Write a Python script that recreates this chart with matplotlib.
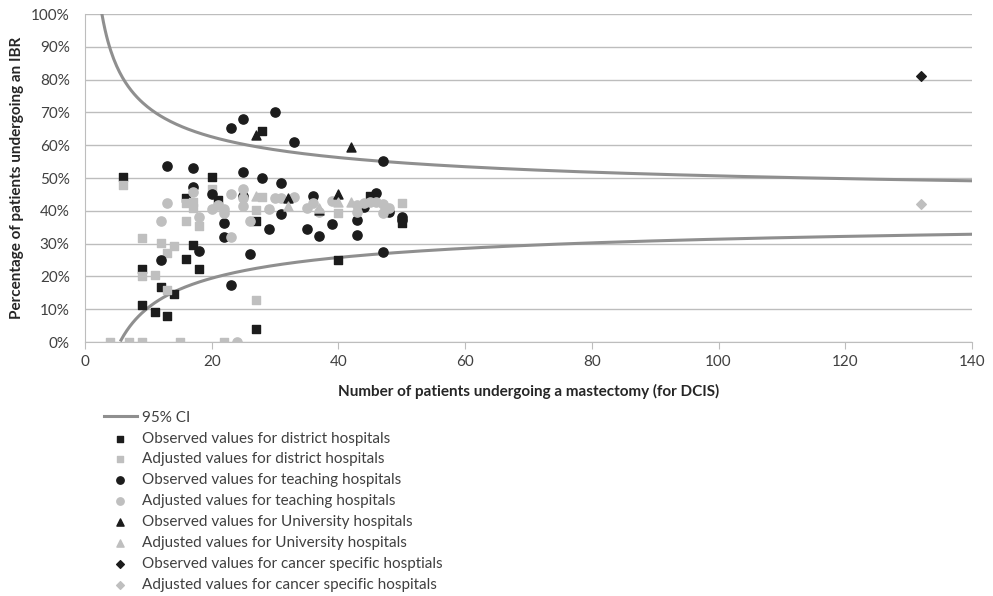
import matplotlib.pyplot as plt
import numpy as np

plt.rcParams['font.family'] = ['Lato', 'DejaVu Sans']

# observed / adjusted IBR rates (x = number of mastectomies, y = % IBR)
district_obs_x = [6, 9, 9, 11, 12, 13, 14, 16, 16, 17, 18, 20, 21, 27, 27, 28, 40, 45, 50]
district_obs_y = [50.2, 22.3, 11.3, 9.2, 16.7, 7.9, 14.5, 25.2, 44, 29.6, 22.4, 50.2, 43.3, 37, 3.9, 64.4, 25, 44.5, 36.2]
district_adj_x = [6, 9, 9, 11, 12, 13, 13, 14, 16, 17, 17, 16, 18, 20, 28, 27, 27, 40, 50, 4, 7, 9, 15, 22]
district_adj_y = [48, 31.6, 20, 20.4, 30.3, 27, 16, 29.3, 42.3, 42.8, 40.8, 37, 35.4, 46.5, 44.3, 40.3, 12.8, 39.2, 42.3, 0, 0, 0, 0, 0]

teach_obs_x = [13, 17, 17, 12, 18, 20, 22, 22, 23, 23, 25, 25, 25, 26, 28, 29, 30, 31, 31, 33, 35, 36, 37, 39, 43, 43, 44, 46, 47, 47, 48, 50, 50]
teach_obs_y = [53.8, 53, 47.2, 25, 27.7, 45, 36.4, 32.1, 65.1, 17.4, 68, 51.9, 44.4, 26.8, 50.1, 34.6, 70, 48.4, 38.9, 61, 34.4, 44.5, 32.3, 36, 37.2, 32.6, 41.3, 45.5, 55.3, 27.5, 39.5, 38.2, 37.2]
teach_adj_x = [13, 12, 17, 18, 20, 21, 22, 22, 23, 23, 25, 25, 25, 26, 29, 30, 31, 33, 35, 36, 37, 39, 43, 44, 45, 46, 47, 48, 47, 43, 24]
teach_adj_y = [42.5, 37, 45.8, 38, 40.4, 41.8, 40.4, 39.2, 32, 45, 46.5, 43.8, 41.5, 37, 40.4, 43.8, 43.8, 44.3, 41, 42.3, 39.7, 43.1, 41.8, 42.3, 42.6, 42.6, 42, 40.8, 39.2, 39.7, 0]

univ_obs_x = [27, 32, 37, 40, 42]
univ_obs_y = [63.1, 43.8, 40.2, 45.1, 59.6]
univ_adj_x = [27, 32, 37, 40, 42]
univ_adj_y = [44.5, 41.5, 41, 42.8, 42.6]

cancer_obs_x = [132]
cancer_obs_y = [81]
cancer_adj_x = [132]
cancer_adj_y = [42]

# funnel limits around the overall rate
overall_rate = 0.41
z95 = 1.96

black = '#1c1c1c'
grey = '#bfbfbf'

fig = plt.figure(figsize=(9.93, 5.96), dpi=100)
ax = fig.add_axes([85/993, 1-342/596, (972-85)/993, (342-14)/596])

n = np.linspace(2, 140, 600)
half = z95*np.sqrt(overall_rate*(1-overall_rate)/n)
ax.plot(n, (overall_rate+half)*100, color='#8f8f8f', lw=2.2, label='95% CI', zorder=2)
lower = (overall_rate-half)*100
lower[lower < 0] = np.nan
ax.plot(n, lower, color='#8f8f8f', lw=2.2, zorder=2)

ms = 38
ax.scatter(district_obs_x, district_obs_y, marker='s', s=ms, color=black, label='Observed values for district hospitals', zorder=3)
ax.scatter(district_adj_x, district_adj_y, marker='s', s=ms, color=grey, label='Adjusted values for district hospitals', zorder=3)
ax.scatter(teach_obs_x, teach_obs_y, marker='o', s=ms+6, color=black, label='Observed values for teaching hospitals', zorder=3)
ax.scatter(teach_adj_x, teach_adj_y, marker='o', s=ms+6, color=grey, label='Adjusted values for teaching hospitals', zorder=3)
ax.scatter(univ_obs_x, univ_obs_y, marker='^', s=ms+4, color=black, label='Observed values for University hospitals', zorder=3)
ax.scatter(univ_adj_x, univ_adj_y, marker='^', s=ms+4, color=grey, label='Adjusted values for University hospitals', zorder=3)
ax.scatter(cancer_obs_x, cancer_obs_y, marker='D', s=24, color=black, label='Observed values for cancer specific hosptials', zorder=3)
ax.scatter(cancer_adj_x, cancer_adj_y, marker='D', s=24, color=grey, label='Adjusted values for cancer specific hospitals', zorder=3)

ax.set_xlim(0, 140)
ax.set_ylim(0, 100)
ax.set_xticks(range(0, 141, 20))
ax.set_yticks(range(0, 101, 10))
ax.set_yticklabels([f'{v}%' for v in range(0, 101, 10)])
ax.yaxis.grid(True, color='#bdbdbd', lw=1)
ax.set_axisbelow(True)
for s in ['top', 'right']:
    ax.spines[s].set_visible(False)
ax.spines['left'].set_color('#bdbdbd')
ax.spines['bottom'].set_color('#bdbdbd')
ax.tick_params(axis='y', length=0, labelsize=11, colors='#404040', pad=11)
ax.tick_params(axis='x', length=5, direction='out', color='#bdbdbd', labelsize=11, labelcolor='#404040', pad=4)
ax.set_xlabel('Number of patients undergoing a mastectomy (for DCIS)', fontsize=11, fontweight='bold', color='#262626', labelpad=11)
ax.set_ylabel('Percentage of patients undergoing an IBR', fontsize=11, fontweight='bold', color='#262626', labelpad=5)

handles, labels = ax.get_legend_handles_labels()
leg = fig.legend(handles, labels, loc='upper left', bbox_to_anchor=(96/993, 1-403/596), frameon=False,
                 fontsize=11, labelspacing=0.45, handlelength=2.2, handletextpad=0.3, borderpad=0,
                 markerscale=0.8)
for t in leg.get_texts():
    t.set_color('#404040')

fig.savefig('out.png', dpi=100)
